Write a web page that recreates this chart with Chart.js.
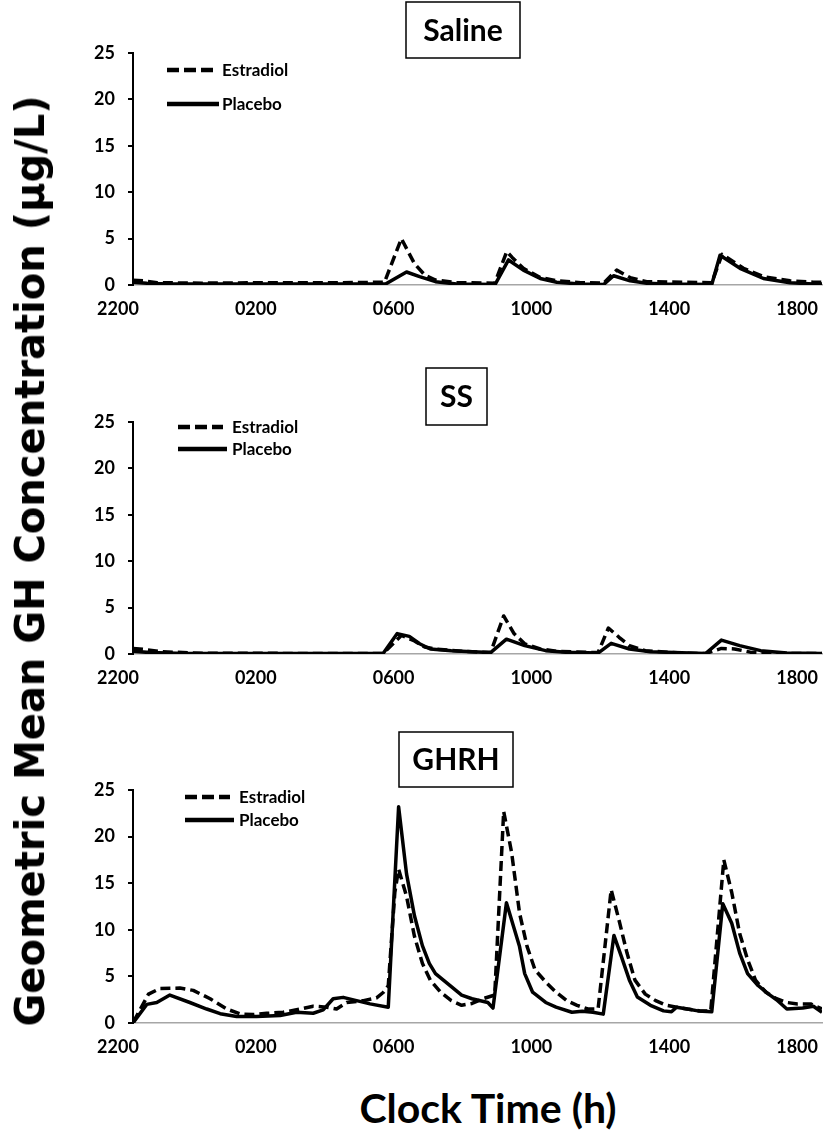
<!DOCTYPE html>
<html>
<head>
<meta charset="utf-8">
<title>Geometric Mean GH Concentration</title>
<script src="https://cdn.jsdelivr.net/npm/chart.js@4.4.1/dist/chart.umd.min.js"></script>
<style>
  body { margin: 0; background: #fff; }
  #page { position: relative; width: 825px; height: 1130px; overflow: hidden; background: #fff; }
  canvas { position: absolute; left: 0; }
  #yTitle {
    position: absolute; left: 30px; top: 561px;
    transform: translate(-50%, -50%) rotate(-90deg);
    font: bold 40px 'DejaVu Sans', sans-serif; white-space: nowrap; color: #000;
  }
  #xTitle {
    position: absolute; left: 488px; top: 1107px;
    transform: translate(-50%, -50%);
    font: bold 41px Lato, sans-serif; white-space: nowrap; color: #000;
  }
</style>
</head>
<body>
<div id="page">
  <canvas id="saline" width="825" height="330" style="top:0px"></canvas>
  <canvas id="ss" width="825" height="360" style="top:330px"></canvas>
  <canvas id="ghrh" width="825" height="370" style="top:690px"></canvas>
  <div id="yTitle">Geometric Mean GH Concentration (µg/L)</div>
  <div id="xTitle">Clock Time (h)</div>
</div>
<script>
// x values are hours after 2200
const xTickLabels = ['2200', '0200', '0600', '1000', '1400', '1800'];
const xTickHours = [0, 4, 8, 12, 16, 20];
const yTicks = [0, 5, 10, 15, 20, 25];
const seriesNames = ['Estradiol', 'Placebo'];

// Saline
const salineEstradiolH = [0, 0.3, 0.7, 2, 4, 6, 7.3, 7.79, 8.17, 8.47, 8.78, 9.39, 10.5, 10.85, 11.0, 11.33, 11.82, 12.3, 13.0, 13.66, 14.04, 14.43, 14.91, 16.8, 17.1, 17.72, 18.3, 19.07, 19.75, 20];
const salineEstradiolGH = [0.5, 0.45, 0.25, 0.2, 0.25, 0.25, 0.3, 5.0, 2.3, 1.07, 0.54, 0.25, 0.2, 3.6, 3.0, 1.8, 0.8, 0.45, 0.25, 0.2, 1.6, 0.8, 0.36, 0.25, 3.3, 1.8, 0.9, 0.45, 0.3, 0.3];
const salinePlaceboH = [0, 0.4, 1, 7.33, 7.94, 8.32, 8.78, 9.39, 10.51, 10.9, 11.33, 11.82, 12.3, 12.98, 13.66, 13.95, 14.43, 14.91, 15.5, 16.8, 17.04, 17.62, 18.3, 19.07, 19.75, 20];
const salinePlaceboGH = [0.3, 0.2, 0.1, 0.1, 1.4, 0.9, 0.36, 0.1, 0.05, 2.7, 1.6, 0.7, 0.3, 0.1, 0.05, 1.0, 0.45, 0.2, 0.1, 0.05, 3.2, 1.8, 0.7, 0.25, 0.1, 0.1];

// SS
const ssEstradiolH = [0, 0.3, 0.8, 2, 7.26, 7.79, 8.17, 8.47, 8.78, 9.54, 10.38, 10.76, 11.06, 11.37, 11.82, 12.28, 13.5, 13.8, 14.11, 14.41, 14.87, 15.94, 16.62, 17.08, 17.46, 17.92, 18.68, 20];
const ssEstradiolGH = [0.6, 0.5, 0.25, 0.08, 0.05, 2.0, 1.4, 0.75, 0.54, 0.3, 0.15, 4.1, 2.2, 1.1, 0.54, 0.3, 0.15, 2.8, 1.8, 0.9, 0.36, 0.1, 0.05, 0.6, 0.54, 0.2, 0.05, 0.05];
const ssPlaceboH = [0, 0.5, 1.5, 7.26, 7.67, 8.02, 8.32, 8.63, 9.24, 9.84, 10.38, 10.84, 11.37, 11.98, 12.59, 13.5, 13.88, 14.41, 15.02, 16.62, 17.08, 17.61, 18.22, 18.98, 20];
const ssPlaceboGH = [0.3, 0.15, 0.05, 0.05, 2.2, 1.9, 1.1, 0.54, 0.36, 0.25, 0.15, 1.6, 0.9, 0.36, 0.18, 0.1, 1.15, 0.54, 0.25, 0.05, 1.5, 0.9, 0.36, 0.1, 0.05];

// GHRH
const ghrhEstradiolH = [0.01, 0.45, 0.78, 1.36, 1.75, 2.24, 2.72, 3.11, 3.49, 3.88, 4.36, 4.85, 5.23, 5.62, 5.91, 6.2, 6.69, 7.07, 7.27, 7.41, 7.6, 7.71, 7.94, 8.17, 8.4, 8.63, 8.93, 9.24, 9.54, 9.84, 10.15, 10.5, 10.76, 10.99, 11.22, 11.44, 11.67, 11.98, 12.28, 12.59, 12.89, 13.2, 13.5, 13.88, 14.11, 14.34, 14.57, 14.87, 15.17, 15.48, 15.78, 16.09, 16.47, 16.77, 17.15, 17.38, 17.61, 17.84, 18.07, 18.37, 18.68, 18.98, 19.29, 19.67, 20];
const ghrhEstradiolGH = [0.1, 3.1, 3.7, 3.75, 3.5, 2.6, 1.5, 0.97, 0.9, 1.04, 1.15, 1.5, 1.8, 1.7, 1.5, 2.2, 2.4, 2.7, 3.3, 4.0, 14.0, 16.5, 13.6, 9.3, 6.4, 4.6, 3.3, 2.4, 1.9, 2.1, 2.6, 3.0, 22.7, 18.3, 11.8, 8.2, 5.7, 4.4, 3.3, 2.4, 1.9, 1.5, 1.5, 14.3, 11.0, 7.5, 4.6, 3.1, 2.4, 1.9, 1.7, 1.5, 1.3, 1.3, 17.5, 14.0, 9.6, 6.8, 4.6, 3.3, 2.6, 2.2, 2.05, 2.05, 1.5];
const ghrhPlaceboH = [0, 0.4, 0.69, 1.07, 1.65, 2.14, 2.53, 3.01, 3.59, 4.27, 4.75, 5.23, 5.52, 5.81, 6.1, 6.49, 6.88, 7.41, 7.71, 7.94, 8.17, 8.4, 8.6, 8.78, 9.24, 9.54, 9.84, 10.3, 10.45, 10.84, 11.22, 11.37, 11.6, 11.98, 12.28, 12.74, 13.04, 13.35, 13.65, 13.96, 14.18, 14.41, 14.64, 15.02, 15.4, 15.63, 15.78, 16.09, 16.4, 16.8, 17.12, 17.38, 17.61, 17.84, 18.15, 18.45, 18.68, 18.98, 19.44, 19.75, 20];
const ghrhPlaceboGH = [0, 2.0, 2.2, 3.0, 2.2, 1.5, 1.0, 0.7, 0.7, 0.8, 1.15, 1.05, 1.4, 2.6, 2.75, 2.4, 2.05, 1.7, 23.2, 16.0, 11.5, 8.3, 6.4, 5.3, 3.9, 3.0, 2.6, 2.2, 1.6, 12.9, 8.2, 5.3, 3.3, 2.2, 1.7, 1.15, 1.26, 1.15, 0.95, 9.4, 7.1, 4.6, 2.8, 1.9, 1.3, 1.2, 1.7, 1.5, 1.3, 1.2, 12.8, 10.7, 7.5, 5.3, 4.0, 3.1, 2.5, 1.5, 1.6, 1.8, 1.15];

const tickFont = { family: 'Lato', weight: 'bold', size: 18 };

function points(hours, values) {
  return hours.map((h, i) => ({ x: h, y: values[i] }));
}

// draws the boxed panel title and the line legend
const panelDecor = {
  id: 'panelDecor',
  afterDraw(chart, args, opts) {
    const ctx = chart.ctx;
    const b = opts.box;
    ctx.save();
    ctx.fillStyle = '#fff';
    ctx.fillRect(b.x, b.y, b.w, b.h);
    ctx.strokeStyle = '#000';
    ctx.lineWidth = 1.5;
    ctx.strokeRect(b.x, b.y, b.w, b.h);
    ctx.fillStyle = '#000';
    ctx.font = 'bold 30px Lato';
    ctx.textAlign = 'center';
    ctx.textBaseline = 'middle';
    ctx.fillText(opts.title, b.x + b.w / 2, b.y + b.h / 2 + 1);

    const lg = opts.legend;
    chart.data.datasets.forEach((ds, i) => {
      const y = lg.y[i];
      ctx.beginPath();
      ctx.setLineDash(ds.borderDash.length ? [12, 5] : []);
      ctx.lineWidth = 4.5;
      ctx.moveTo(lg.x, y);
      ctx.lineTo(lg.x + lg.len[i], y);
      ctx.stroke();
      ctx.setLineDash([]);
      ctx.font = 'bold 17px Lato';
      ctx.textAlign = 'left';
      ctx.fillText(ds.label, lg.textX, y + 1);
    });
    ctx.restore();
  }
};

// keep the last time label inside the picture, as the original does
const keepLabelsInside = {
  id: 'keepLabelsInside',
  beforeDraw(chart) {
    const s = chart.scales.x;
    const items = s.getLabelItems(chart.chartArea);
    const ctx = chart.ctx;
    items.forEach(item => {
      ctx.font = item.font.string;
      const half = ctx.measureText(item.label).width / 2;
      const t = item.options.translation;
      if (t[0] + half > chart.width - 7) t[0] = chart.width - 7 - half;
    });
  }
};

function makePanel(id, title, estH, estGH, plaH, plaGH, layout) {
  new Chart(document.getElementById(id), {
    type: 'line',
    data: {
      datasets: [
        {
          label: seriesNames[0], data: points(estH, estGH),
          borderColor: '#000', borderWidth: 3.5, borderDash: [10, 5],
          borderJoinStyle: 'round', pointRadius: 0, tension: 0, fill: false
        },
        {
          label: seriesNames[1], data: points(plaH, plaGH),
          borderColor: '#000', borderWidth: 3.5, borderDash: [],
          borderJoinStyle: 'round', pointRadius: 0, tension: 0, fill: false
        }
      ]
    },
    options: {
      responsive: false,
      animation: false,
      events: [],
      layout: { padding: { top: layout.top, right: 3, left: 0, bottom: 0 } },
      plugins: {
        legend: { display: false },
        tooltip: { enabled: false },
        panelDecor: { title: title, box: layout.box, legend: layout.legend }
      },
      scales: {
        x: {
          type: 'linear', min: 0, max: 20,
          afterBuildTicks: s => { s.ticks = xTickHours.map(v => ({ value: v })); },
          afterFit: s => { s.height = layout.xHeight; s.paddingLeft = 0; s.paddingRight = 0; },
          grid: { display: false, drawTicks: false },
          border: { display: true, color: '#a6a6a6', width: 1.5 },
          ticks: {
            font: tickFont, color: '#000', padding: 13, labelOffset: -15,
            maxRotation: 0, autoSkip: false,
            callback: (v, i) => xTickLabels[i]
          }
        },
        y: {
          min: 0, max: 25,
          afterBuildTicks: s => { s.ticks = yTicks.map(v => ({ value: v })); },
          afterFit: s => { s.width = 133; s.paddingTop = 0; s.paddingBottom = 0; },
          grid: { drawOnChartArea: false, drawTicks: true, tickLength: 5, color: '#000', lineWidth: 2 },
          border: { display: true, color: '#000', width: 2 },
          ticks: { font: tickFont, color: '#000', padding: 13 }
        }
      }
    },
    plugins: [panelDecor, keepLabelsInside]
  });
}

makePanel('saline', 'Saline', salineEstradiolH, salineEstradiolGH, salinePlaceboH, salinePlaceboGH, {
  top: 53, xHeight: 45,
  box: { x: 406, y: 2, w: 114, h: 56 },
  legend: { x: 167, len: [46, 52], textX: 222, y: [70, 104] }
});
makePanel('ss', 'SS', ssEstradiolH, ssEstradiolGH, ssPlaceboH, ssPlaceboGH, {
  top: 92, xHeight: 36,
  box: { x: 426, y: 38, w: 61, h: 57 },
  legend: { x: 178, len: [45, 49], textX: 232, y: [97, 119] }
});
makePanel('ghrh', 'GHRH', ghrhEstradiolH, ghrhEstradiolGH, ghrhPlaceboH, ghrhPlaceboGH, {
  top: 100, xHeight: 37,
  box: { x: 399, y: 42, w: 114, h: 55 },
  legend: { x: 185, len: [45, 49], textX: 239, y: [107, 130] }
});
</script>
</body>
</html>
